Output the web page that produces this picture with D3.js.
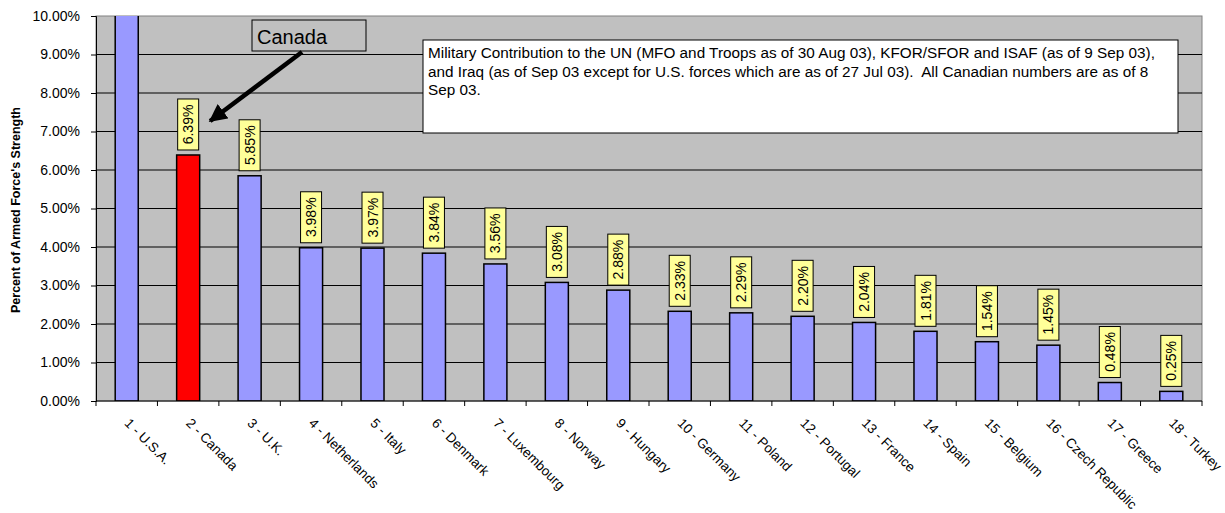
<!DOCTYPE html>
<html><head><meta charset="utf-8">
<script src="https://cdn.jsdelivr.net/npm/d3@7"></script>
<style>body{margin:0;background:#fff}svg{display:block;font-family:Arial,"Liberation Sans",sans-serif}</style>
</head><body><svg id="c" width="1225" height="513"></svg>
<script>
const categories = ["1 - U.S.A.","2 - Canada","3 - U.K.","4 - Netherlands","5 - Italy","6 - Denmark","7 - Luxembourg","8 - Norway","9 - Hungary","10 - Germany","11 - Poland","12 - Portugal","13 - France","14 - Spain","15 - Belgium","16 - Czech Republic","17 - Greece","18 - Turkey"];
const values = [11.0,6.39,5.85,3.98,3.97,3.84,3.56,3.08,2.88,2.33,2.29,2.20,2.04,1.81,1.54,1.45,0.48,0.25];
const showLabel = [false,true,true,true,true,true,true,true,true,true,true,true,true,true,true,true,true,true];
const yTicks = [0,1,2,3,4,5,6,7,8,9,10];
const noteLines = ["Military Contribution to the UN (MFO and Troops as of 30 Aug 03), KFOR/SFOR and ISAF (as of 9 Sep 03),",
"and Iraq (as of Sep 03 except for U.S. forces which are as of 27 Jul 03).  All Canadian numbers are as of 8",
"Sep 03."];
const highlight = "2 - Canada";

const svg = d3.select("#c");
const L=96,R=1202,T=16,B=401;
const x = d3.scaleBand().domain(categories).range([L,R]).paddingInner(0.625).paddingOuter(0.3125);
const y = d3.scaleLinear().domain([0,10]).range([B,T]);

svg.append("rect").attr("x",L).attr("y",T).attr("width",R-L).attr("height",B-T).attr("fill","#C0C0C0").attr("stroke","#808080").attr("stroke-width",1);
svg.append("defs").append("clipPath").attr("id","clip").append("rect").attr("x",L).attr("y",T).attr("width",R-L).attr("height",B-T);

svg.append("g").selectAll("line").data(yTicks.filter(d=>d>0&&d<10)).join("line")
 .attr("x1",L).attr("x2",R).attr("y1",d=>y(d)).attr("y2",d=>y(d)).attr("stroke","#000").attr("stroke-width",1);

svg.append("g").attr("clip-path","url(#clip)").selectAll("rect").data(categories).join("rect")
 .attr("x",d=>x(d)).attr("width",x.bandwidth())
 .attr("y",(d,i)=>y(values[i])).attr("height",(d,i)=>B-y(values[i]))
 .attr("fill",d=>d===highlight?"#FF0000":"#9999FF").attr("stroke","#000").attr("stroke-width",1.5);

// y axis
const ya = svg.append("g").attr("transform",`translate(${L},0)`).call(d3.axisLeft(y).tickValues(yTicks).tickSize(5).tickPadding(11).tickFormat(d=>d.toFixed(2)+"%"));
ya.select(".domain").attr("stroke","#000");
ya.selectAll("text").attr("font-size",14).attr("font-family","Arial,'Liberation Sans',sans-serif").attr("fill","#000");

// x axis
svg.append("line").attr("x1",L).attr("x2",R).attr("y1",B).attr("y2",B).attr("stroke","#000");
const step = x.step();
svg.append("g").selectAll("line").data(d3.range(categories.length+1)).join("line")
 .attr("x1",i=>L+i*step).attr("x2",i=>L+i*step).attr("y1",B).attr("y2",B+5).attr("stroke","#000");
svg.append("g").selectAll("text").data(categories).join("text")
 .attr("transform",d=>`translate(${x(d)+x.bandwidth()/2-3},${424}) rotate(45)`)
 .attr("font-size",13.5).text(d=>d);

// labels
const lg = svg.append("g");
categories.forEach((c,i)=>{
  if(!showLabel[i]) return;
  const cx = x(c)+x.bandwidth()/2, bot = y(values[i])-5, h=51, w=21;
  lg.append("rect").attr("x",cx-w/2).attr("y",bot-h).attr("width",w).attr("height",h).attr("fill","#FFFF99").attr("stroke","#000").attr("stroke-width",1);
  lg.append("text").attr("transform",`translate(${cx+5},${bot-h/2}) rotate(-90)`).attr("text-anchor","middle").attr("font-size",14).text(values[i].toFixed(2)+"%");
});

// y title
svg.append("text").attr("transform","translate(20,210) rotate(-90)").attr("text-anchor","middle").attr("font-size",12.5).attr("font-weight","bold").text("Percent of Armed Force's Strength");

// note box
svg.append("rect").attr("x",423).attr("y",40).attr("width",755).attr("height",93).attr("fill","#fff").attr("stroke","#000");
svg.append("g").selectAll("text").data(noteLines).join("text").attr("x",428).attr("y",(d,i)=>58+i*18.5).attr("font-size",15.3).attr("xml:space","preserve").style("white-space","pre").text(d=>d);

// Canada callout
svg.append("rect").attr("x",252).attr("y",20).attr("width",114).attr("height",31).attr("fill","#C0C0C0").attr("stroke","#000");
svg.append("text").attr("x",257).attr("y",44).attr("font-size",20).text("Canada");
const cx2 = x(highlight)+x.bandwidth()/2;
svg.append("defs").append("marker").attr("id","ah").attr("viewBox","0 0 10 10").attr("refX",9).attr("refY",5).attr("markerWidth",4).attr("markerHeight",4).attr("orient","auto")
 .append("path").attr("d","M0,0L10,5L0,10z").attr("fill","#000");
svg.append("line").attr("x1",302).attr("y1",52).attr("x2",cx2+22).attr("y2",121).attr("stroke","#000").attr("stroke-width",4.5).attr("marker-end","url(#ah)");
</script></body></html>
